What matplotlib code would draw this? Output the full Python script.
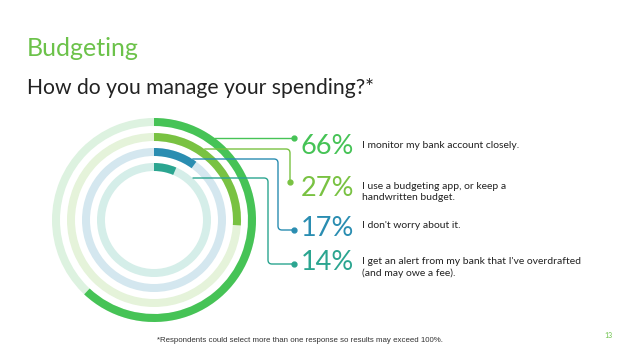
import numpy as np
import matplotlib.pyplot as plt
from matplotlib.patches import Wedge
from matplotlib.path import Path
from matplotlib.patches import PathPatch

# survey answers (label %) and the arc share drawn on each ring
pct_labels = ["66%", "27%", "17%", "14%"]
arc_share = [0.62, 0.26, 0.10, 0.064]
answers = [
    "I monitor my bank account closely.",
    "I use a budgeting app, or keep a\nhandwritten budget.",
    "I don't worry about it.",
    "I get an alert from my bank that I've overdrafted\n(and may owe a fee).",
]
fg_colors = ["#46c356", "#79c242", "#2a8db1", "#2ba590"]
bg_colors = ["#ddf2e0", "#e5f3da", "#d4e7ef", "#d5eee9"]

plt.rcParams['font.family'] = ['Lato', 'DejaVu Sans']

fig = plt.figure(figsize=(6.4, 3.6), dpi=100)
ax = fig.add_axes([0, 0, 1, 1])
ax.set_xlim(0, 640)
ax.set_ylim(360, 0)
ax.set_aspect('equal')
ax.axis('off')

cx, cy = 154, 220
radii = [102, 87, 72, 57]
ring_w = 8

for i in range(4):
    r = radii[i]
    ax.add_patch(Wedge((cx, cy), r, 0, 360, width=ring_w,
                       facecolor=bg_colors[i], edgecolor='none'))
    ax.add_patch(Wedge((cx, cy), r, -90, -90 + 360 * arc_share[i], width=ring_w,
                       facecolor=fg_colors[i], edgecolor='none'))

# connectors: horizontal from ring edge, down, then to a dot
line_y = [138, 149, 159, 178]
turn_x = [292, 290, 278, 268]
dot_y = [138, 182, 230, 264]
dot_x = 294
rc = 4
for i in range(4):
    y0 = line_y[i]
    x0 = cx + np.sqrt(radii[i] ** 2 - (cy - y0) ** 2)
    if i == 0:
        ax.plot([x0, dot_x], [y0, y0], color=fg_colors[i], lw=1.0)
    elif i == 1:
        verts = [(x0, y0), (turn_x[i] - rc, y0), (turn_x[i], y0), (turn_x[i], y0 + rc),
                 (turn_x[i], dot_y[i])]
        codes = [Path.MOVETO, Path.LINETO, Path.CURVE3, Path.CURVE3, Path.LINETO]
        ax.add_patch(PathPatch(Path(verts, codes), facecolor='none',
                               edgecolor=fg_colors[i], lw=1.0))
    else:
        tx, yd = turn_x[i], dot_y[i]
        verts = [(x0, y0), (tx - rc, y0), (tx, y0), (tx, y0 + rc),
                 (tx, yd - rc), (tx, yd), (tx + rc, yd), (dot_x, yd)]
        codes = [Path.MOVETO, Path.LINETO, Path.CURVE3, Path.CURVE3,
                 Path.LINETO, Path.CURVE3, Path.CURVE3, Path.LINETO]
        ax.add_patch(PathPatch(Path(verts, codes), facecolor='none',
                               edgecolor=fg_colors[i], lw=1.0))
    ax.plot(dot_x if i != 1 else turn_x[i], dot_y[i], 'o', color=fg_colors[i], ms=3.5)

# percentages and answers
pct_y = [147, 189, 228, 263]
text_y = [141, 182, 221, 257]
for i in range(4):
    ax.text(301, pct_y[i], pct_labels[i], color=fg_colors[i], fontsize=19.5,
            fontweight='normal', va='center', ha='left')
    ax.text(362, text_y[i], answers[i], color='#222222', fontsize=7.5,
            va='top', ha='left', linespacing=1.3)

ax.text(27, 48, "Budgeting", color='#6cc24a', fontsize=18, va='center', ha='left')
ax.text(27, 88, "How do you manage your spending?*", color='#222222', fontsize=15.2,
        va='center', ha='left')
ax.text(157, 341, "*Respondents could select more than one response so results may exceed 100%.",
        color='#333333', fontsize=5.7, va='center', ha='left', family='Liberation Sans')
ax.text(604, 336, "13", color='#6cc24a', fontsize=5, va='center', ha='left')

fig.savefig('out.png', dpi=100, facecolor='white')
